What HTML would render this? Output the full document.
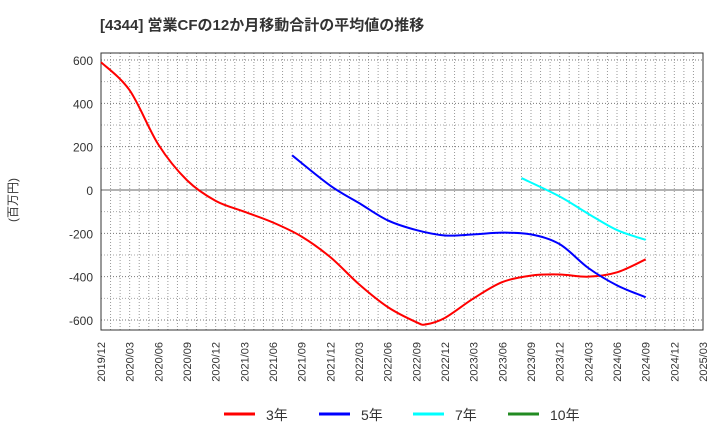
<!DOCTYPE html>
<html><head><meta charset="utf-8"><style>
body{margin:0;background:#fff;}
svg text{font-family:"Liberation Sans","Noto Sans CJK JP",sans-serif;}
</style></head><body>
<svg width="720" height="440" id="c" xmlns="http://www.w3.org/2000/svg">
<text x="100" y="30" font-size="15" font-weight="bold" fill="#333">[4344]  営業CFの12か月移動合計の平均値の推移</text>
<text transform="translate(17,200) rotate(-90)" font-size="12" fill="#333" text-anchor="middle">(百万円)</text>
</svg>
<script>
const xLabels=["2019/12","2020/03","2020/06","2020/09","2020/12","2021/03","2021/06","2021/09","2021/12","2022/03","2022/06","2022/09","2022/12","2023/03","2023/06","2023/09","2023/12","2024/03","2024/06","2024/09","2024/12","2025/03"];
const yTicks=[600,400,200,0,-200,-400,-600];
const m3=[0,3,6,9,12,15,18,21,24,27,30,33,34,36,39,42,45,48,51,54,57];
const v3=[590,460,210,45,-50,-100,-150,-215,-310,-435,-540,-610,-620,-590,-500,-425,-395,-390,-400,-380,-320];
const m5=[20,24,27,30,33,36,39,42,45,48,51,54,57];
const v5=[160,20,-60,-140,-185,-210,-205,-197,-205,-250,-360,-440,-495];
const m7=[44,48,51,54,57];
const v7=[55,-30,-110,-185,-230];
const L=101,R=703,T=53,B=330;
const xs=m=>L+m*(R-L)/63;
const ys=v=>190-v*130/600;
const svg=document.getElementById('c');
const NS="http://www.w3.org/2000/svg";
function el(t,a,p){const e=document.createElementNS(NS,t);for(const k in a)e.setAttribute(k,a[k]);(p||svg).appendChild(e);return e;}
const g=el('g',{});


for(let m=1;m<63;m++){el('line',{x1:xs(m),x2:xs(m),y1:T,y2:B,stroke:'#999','stroke-width':1,'stroke-dasharray':'1,2'},g);}
for(let v=-600;v<=600;v+=100){if(v===0)continue;el('line',{x1:L,x2:R,y1:ys(v),y2:ys(v),stroke:v%200===0?'#777':'#aaa','stroke-width':1,'stroke-dasharray':'1,2'},g);}
const zl=el('line',{x1:L,x2:R,y1:ys(0),y2:ys(0),stroke:'#666','stroke-width':1});


const fr=el('rect',{x:L,y:T,width:R-L,height:B-T,fill:'none',stroke:'#333','stroke-width':1});


yTicks.forEach(v=>{const t=el('text',{x:L-8,y:ys(v)+5,'font-size':12,fill:'#333','text-anchor':'end'});t.textContent=v;

});
xLabels.forEach((s,i)=>{const x=xs(i*3);const t=el('text',{transform:`translate(${x+4},${B+12}) rotate(-90)`,'font-size':11,fill:'#333','text-anchor':'end'});t.textContent=s;

});
function path(ms,vs){const p=ms.map((m,i)=>[xs(m),ys(vs[i])]);let d=`M${p[0][0]},${p[0][1]}`;
for(let i=0;i<p.length-1;i++){const p0=p[i-1]||p[i],p1=p[i],p2=p[i+1],p3=p[i+2]||p2;
d+=` C${p1[0]+(p2[0]-p0[0])/6},${p1[1]+(p2[1]-p0[1])/6} ${p2[0]-(p3[0]-p1[0])/6},${p2[1]-(p3[1]-p1[1])/6} ${p2[0]},${p2[1]}`;}return d;}
[[m3,v3,'#f00','series-3yr'],[m5,v5,'#00f','series-5yr'],[m7,v7,'#0ff','series-7yr']].forEach(s=>{
const e=el('path',{d:path(s[0],s[1]),fill:'none',stroke:s[2],'stroke-width':2});

});
const leg=[['3年','#f00',224],['5年','#00f',319],['7年','#0ff',413],['10年','#228b22',508]];
leg.forEach(l=>{const gg=el('g',{});


el('line',{x1:l[2],x2:l[2]+31,y1:414,y2:414,stroke:l[1],'stroke-width':3},gg);
const t=el('text',{x:l[2]+42,y:420,'font-size':14,fill:'#333'},gg);t.textContent=l[0];});
</script>
</body></html>
